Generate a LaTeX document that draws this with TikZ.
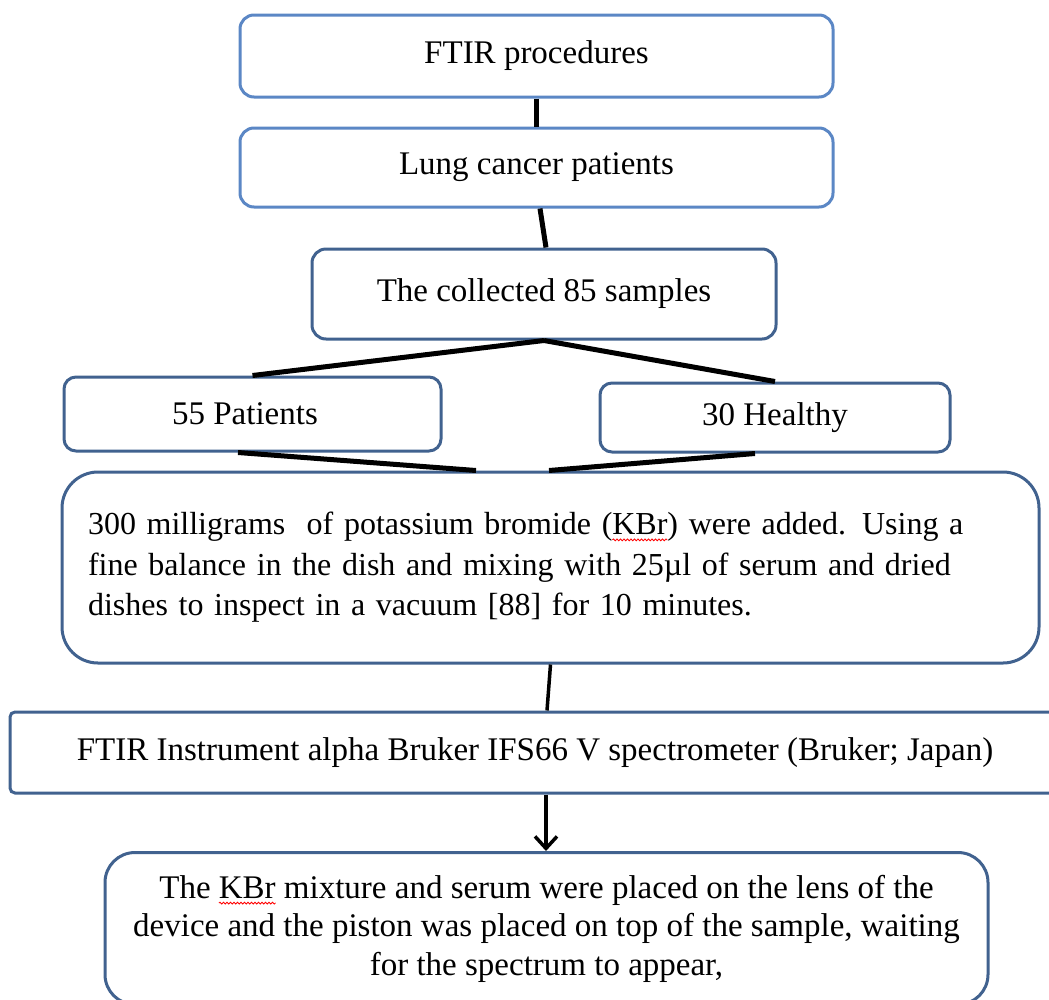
\documentclass[tikz,border=0pt]{standalone}
\usepackage{fontspec}
\setmainfont{Liberation Serif}
\usetikzlibrary{arrows.meta,decorations.pathmorphing}
\definecolor{lightframe}{HTML}{5B87C5}
\definecolor{darkframe}{HTML}{41628F}
\newcommand\squig[1]{\tikz[baseline=(w.base),x=1cm,y=1cm]{\node[inner sep=0pt,outer sep=0pt,minimum size=0pt,draw=none,fill=none,rounded corners=0pt,text width=,align=none](w){#1};\draw[overlay,red,line width=0.8pt,rounded corners=0pt,decorate,decoration={snake,amplitude=1pt,segment length=3.5pt}] ([yshift=-5pt]w.base west)--([yshift=-5pt]w.base east);}}
\tikzset{
  box/.style={draw, line width=3pt, rounded corners=#1, fill=white, inner sep=0pt,
    font=\fontsize{33}{40}\selectfont, align=center},
  lightbox/.style={box=14pt, draw=lightframe},
  darkbox/.style={box=#1, draw=darkframe},
  link/.style={line width=5pt, black},
  thinlink/.style={line width=3.5pt, black}
}
\begin{document}
\begin{tikzpicture}[x=1pt,y=-1pt]
\useasboundingbox (0,0) rectangle (1049,999);
\node[lightbox, minimum width=593pt, minimum height=82pt] (n1) at (536.5,56) {FTIR procedures};
\node[lightbox, minimum width=593pt, minimum height=79pt] (n2) at (536.5,167.5) {Lung cancer patients};
\node[darkbox=14pt, minimum width=464pt, minimum height=90pt] (n3) at (544,294) {The collected 85 samples};
\node[darkbox=12pt, minimum width=377pt, minimum height=74pt] (n4) at (252.5,414) {\hspace*{-15pt}55 Patients};
\node[darkbox=12pt, minimum width=350pt, minimum height=69pt] (n5) at (775,417.5) {30 Healthy};
\node[darkbox=36pt, minimum width=977pt, minimum height=191pt, text width=925pt, align=left,
      font=\fontsize{32}{40.5}\selectfont] (n6) at (550.5,567.5)
  {300 milligrams~ of potassium bromide (\squig{KBr}) were added. Using a\\
   fine balance in the dish and mixing with 25µl of serum and dried\\
   dishes to inspect in a vacuum [88] for 10 minutes.};
\node[darkbox=5pt, minimum width=1050pt, minimum height=81pt] (n7) at (535,752.5) {FTIR Instrument alpha Bruker IFS66 V spectrometer (Bruker; Japan)};
\node[darkbox=30pt, minimum width=883pt, minimum height=152pt, anchor=north,
      font=\fontsize{33}{38.5}\selectfont] (n8) at (546.5,851)
  {The \squig{KBr} mixture and serum were placed on the lens of the\\
   device and the piston was placed on top of the sample, waiting\\
   for the spectrum to appear,};
\draw[link] (n1.south) -- (n2.north);
\draw[link] ([xshift=3.5pt]n2.south) -- ([xshift=2pt]n3.north);
\draw[link] (n3.south) -- (n4.north);
\draw[link] (n3.south) -- (n5.north);
\draw[link] ([xshift=-14.5pt]n4.south) -- ([xshift=-74.5pt]n6.north);
\draw[link] ([xshift=-20pt]n5.south) -- ([xshift=-1.5pt]n6.north);
\draw[thinlink] (n6.south) -- ([xshift=12pt]n7.north);
\draw[thinlink, -{Straight Barb[length=12pt,width=22pt,line width=3.5pt]}] ([xshift=11pt]n7.south) -- ([xshift=-0.5pt]n8.north);
\end{tikzpicture}
\end{document}
